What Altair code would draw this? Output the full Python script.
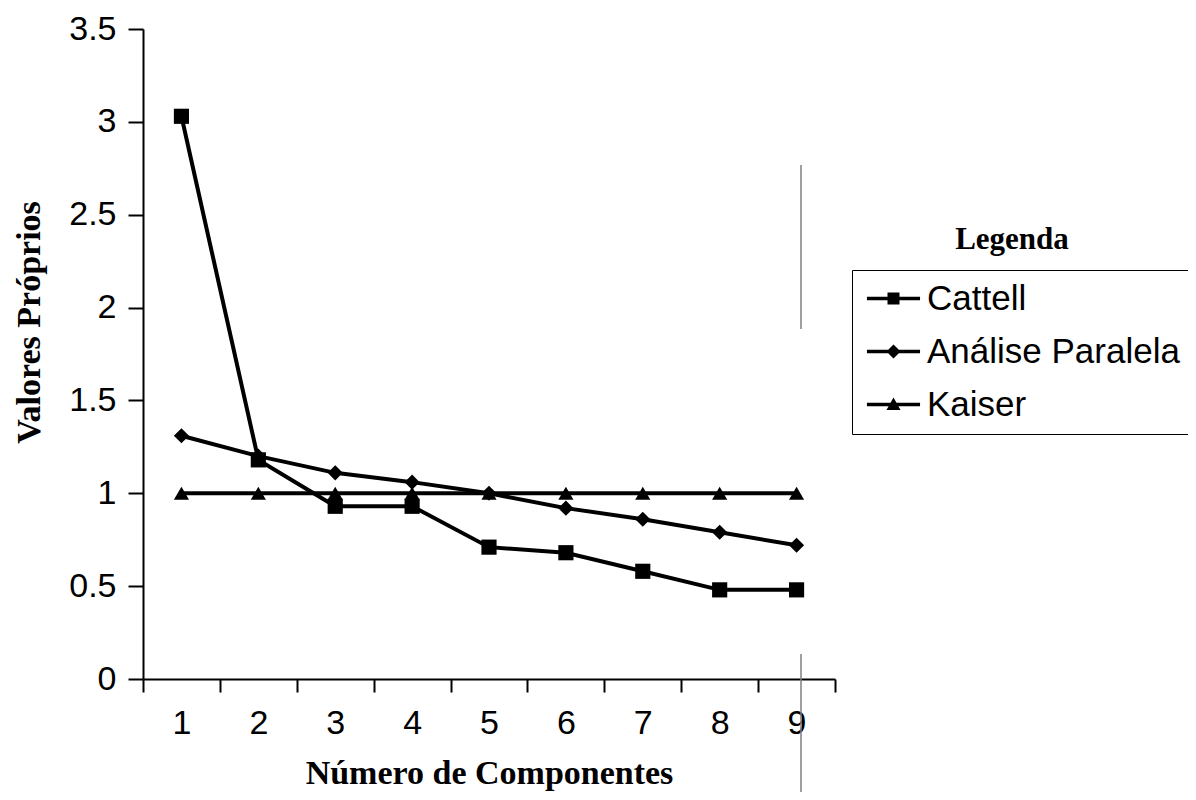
import altair as alt
import pandas as pd

components = [1, 2, 3, 4, 5, 6, 7, 8, 9]
cattell = [3.03, 1.18, 0.93, 0.93, 0.71, 0.68, 0.58, 0.48, 0.48]
paralela = [1.31, 1.20, 1.11, 1.06, 1.00, 0.92, 0.86, 0.79, 0.72]
kaiser = [1.0, 1.0, 1.0, 1.0, 1.0, 1.0, 1.0, 1.0, 1.0]
series_names = ["Cattell", "Análise Paralela", "Kaiser"]
y_ticks = [0, 0.5, 1, 1.5, 2, 2.5, 3, 3.5]
x_title = "Número de Componentes"
y_title = "Valores Próprios"
legend_title = "Legenda"

rows = []
for name, vals in zip(series_names, [cattell, paralela, kaiser]):
    for c, v in zip(components, vals):
        rows.append({"component": c, "value": v, "series": name})
df = pd.DataFrame(rows)

SANS = "Liberation Sans"
SERIF = "Liberation Serif"

x_enc = alt.X(
    "component:O",
    scale=alt.Scale(type="band", paddingInner=0, paddingOuter=0),
    axis=alt.Axis(
        tickBand="extent", labelAngle=0, tickSize=13, tickWidth=2,
        domainWidth=2, domainColor="black", tickColor="black",
        labelFont=SANS, labelFontSize=34, labelColor="black", labelPadding=14,
        titleFont=SERIF, titleFontWeight="bold", titleFontSize=34,
        titleColor="black", titleX=346, titleY=104, titleBaseline="alphabetic",
    ),
    title=x_title,
)
y_enc = alt.Y(
    "value:Q",
    scale=alt.Scale(domain=[0, 3.5], nice=False, zero=True),
    axis=alt.Axis(
        values=y_ticks, format="~g", grid=False, tickSize=15, tickWidth=2,
        domainWidth=2, domainColor="black", tickColor="black",
        labelFont=SANS, labelFontSize=34, labelColor="black", labelPadding=12,
        titleFont=SERIF, titleFontWeight="bold", titleFontSize=34,
        titleColor="black", titleX=-104, titleY=293, titleBaseline="alphabetic",
    ),
    title=y_title,
)

base = alt.Chart(df)

lines = base.mark_line(color="black", strokeWidth=4).encode(
    x=x_enc, y=y_enc, detail="series:N"
)

markers = base.mark_point(filled=True, color="black", opacity=1, size=230).encode(
    x=x_enc, y=y_enc,
    shape=alt.Shape("series:N",
                    scale=alt.Scale(domain=series_names,
                                    range=["square", "diamond", "triangle-up"]),
                    legend=None),
)

seg = "M-1.77,-0.12H1.77V0.12H-1.77Z"
legend_paths = [
    seg + "M-0.4,-0.4H0.4V0.4H-0.4Z",
    seg + "M0,-0.47L0.47,0L0,0.47L-0.47,0Z",
    seg + "M0,-0.47L0.47,0.37H-0.47Z",
]

legend_layer = base.mark_point(filled=True, color="black", opacity=0).encode(
    x=x_enc, y=y_enc,
    shape=alt.Shape("series:N",
                    scale=alt.Scale(domain=series_names, range=legend_paths),
                    legend=alt.Legend(
                        orient="none", legendX=709, legendY=241, title=None,
                        strokeColor="black", padding=11, symbolSize=900,
                        symbolOffset=13, symbolFillColor="black",
                        symbolStrokeColor="black", symbolStrokeWidth=0,
                        symbolOpacity=1, labelFont=SANS, labelFontSize=35,
                        labelColor="black", labelOffset=16, rowPadding=17,
                        labelLimit=500, labelBaseline="middle",
                    )),
)

legend_title_layer = alt.Chart(pd.DataFrame({"label": [legend_title]})).mark_text(
    font=SERIF, fontWeight="bold", fontSize=31, color="black",
    align="center", baseline="middle",
).encode(text="label:N", x=alt.value(869), y=alt.value(211))

one = pd.DataFrame({"a": [0]})
artifact1 = alt.Chart(one).mark_rule(color="#808080", strokeWidth=1.5).encode(
    x=alt.value(658), y=alt.value(136), y2=alt.value(300)
)
artifact2 = alt.Chart(one).mark_rule(color="#808080", strokeWidth=1.5).encode(
    x=alt.value(658), y=alt.value(625), y2=alt.value(775)
)

chart = alt.layer(
    lines, markers, legend_layer, legend_title_layer, artifact1, artifact2
).resolve_scale(shape="independent").properties(
    width=692, height=650,
    padding={"left": 135, "top": 21, "right": 353, "bottom": 113},
    autosize=alt.AutoSizeParams(type="none"),
    background="white",
).configure_view(stroke=None)

chart.save("out.html", embed_options={"renderer": "svg", "actions": False})
